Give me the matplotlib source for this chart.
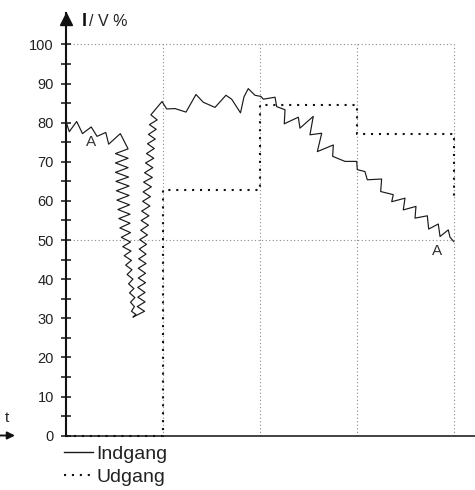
"""Indgang / Udgang level over time (I/V %)."""

import matplotlib
matplotlib.use("Agg")
import matplotlib.pyplot as plt
from matplotlib.lines import Line2D

plt.rcParams["font.family"] = ["Liberation Sans", "DejaVu Sans"]

# Indgang (input): time units (grid = 1) and percent
indgang_t = [
    0.00, 0.034, 0.11, 0.17, 0.26, 0.32, 0.41, 0.44, 0.56,
    # falling zigzag
    0.64, 0.51, 0.64, 0.51, 0.64, 0.51, 0.645, 0.515, 0.65, 0.52,
    0.65, 0.525, 0.655, 0.535, 0.66, 0.545, 0.66, 0.555, 0.665, 0.57,
    0.665, 0.585, 0.67, 0.60, 0.675, 0.615, 0.68, 0.63, 0.69, 0.645,
    0.70, 0.655, 0.71, 0.665, 0.705, 0.675, 0.72, 0.69,
    # rising zigzag
    0.81, 0.735, 0.815, 0.74, 0.815, 0.74, 0.82, 0.745, 0.82, 0.745,
    0.825, 0.75, 0.825, 0.755, 0.83, 0.76, 0.84, 0.77, 0.85, 0.775,
    0.855, 0.78, 0.865, 0.79, 0.87, 0.795, 0.88, 0.80, 0.89, 0.81,
    0.895, 0.82, 0.905, 0.83, 0.91, 0.84, 0.92, 0.85, 0.93, 0.86,
    0.94, 0.875,
    # plateau and slow decline
    0.99, 1.038, 1.124, 1.237, 1.340, 1.416, 1.536, 1.649, 1.708, 1.799,
    1.835, 1.879, 1.948, 2.010, 2.034, 2.155, 2.172, 2.258, 2.250, 2.395,
    2.412, 2.549, 2.515, 2.636, 2.591, 2.756, 2.749, 2.876, 2.997, 3.003,
    3.082, 3.106, 3.254, 3.244, 3.374, 3.358, 3.495, 3.477, 3.608, 3.598,
    3.725, 3.739, 3.838, 3.856, 3.941, 3.959, 3.999,
]
indgang_pct = [
    80.3, 77.7, 80.3, 77.2, 78.9, 76.5, 77.5, 74.5, 77.2,
    73.3, 72.1, 70.9, 69.7, 68.5, 67.3, 66.1, 65.0, 63.8, 62.6,
    61.4, 60.2, 59.0, 57.8, 56.6, 55.5, 54.3, 53.1, 51.9, 50.7,
    49.5, 48.3, 47.2, 46.0, 44.8, 43.6, 42.4, 41.2, 40.0, 38.8,
    37.6, 36.5, 35.3, 34.1, 33.0, 31.8, 31.0, 30.3,
    31.8, 33.0, 34.2, 35.4, 36.6, 37.9, 39.1, 40.3, 41.5, 42.8,
    44.0, 45.2, 46.4, 47.7, 48.9, 50.1, 51.3, 52.5, 53.8, 55.0,
    56.2, 57.4, 58.7, 59.9, 61.1, 62.3, 63.6, 64.8, 66.0, 67.2,
    68.5, 69.7, 70.9, 72.1, 73.4, 74.6, 75.8, 77.0, 78.3, 79.5,
    80.7, 82.0,
    85.4, 83.5, 83.6, 82.7, 87.2, 85.2, 83.9, 87.0, 86.0, 82.5,
    86.6, 88.7, 87.0, 86.7, 86.0, 86.5, 84.1, 83.3, 79.7, 81.4,
    78.6, 81.6, 76.9, 77.3, 72.6, 74.3, 71.4, 70.1, 70.1, 68.0,
    67.5, 65.4, 65.6, 62.4, 61.6, 59.8, 60.7, 57.7, 58.6, 55.6,
    56.2, 52.8, 54.1, 50.9, 52.6, 50.7, 49.6,
]

# Udgang (output), stepwise
udgang_t = [0, 1, 1, 2, 2, 3, 3, 4, 4]
udgang_pct = [0, 0, 62.7, 62.7, 84.6, 84.6, 77.1, 77.1, 60.2]

grid_t = [1, 2, 3, 4]
grid_pct = [50, 100]
major_ticks = list(range(0, 101, 10))
minor_ticks = list(range(5, 100, 10))

labels_a = [(0.26, 75.0), (3.82, 47.2)]

W, H = 475, 490
fig = plt.figure(figsize=(W / 100, H / 100), dpi=100)
ax = fig.add_axes([66 / W, (H - 435.7) / H, 409 / W, 108 * 3.913 / H])
ax.set_xlim(0, 409 / 97)
ax.set_ylim(0, 108)

grid_kw = dict(color="#8a8a8a", lw=0.8, linestyle=(0, (1, 2.2)), zorder=1)
for t in grid_t:
    ax.plot([t, t], [0, 100], **grid_kw)
for p in grid_pct:
    ax.plot([0, 4], [p, p], **grid_kw)

ax.plot(udgang_t, udgang_pct, color="#111111", lw=1.5,
        linestyle=(0, (1, 2.8)), zorder=2, clip_on=False)
ax.plot(indgang_t, indgang_pct, color="#1a1a1a", lw=0.85, zorder=3)

for t, p in labels_a:
    ax.text(t, p, "A", fontsize=11, color="#333333", ha="center", va="center")

for side in ["top", "right"]:
    ax.spines[side].set_visible(False)
ax.spines["left"].set_linewidth(1.5)
ax.spines["bottom"].set_linewidth(1.1)
ax.spines["left"].set_color("#111111")
ax.spines["bottom"].set_color("#111111")

ax.set_xticks([])
ax.set_yticks(major_ticks)
ax.set_yticks(minor_ticks, minor=True)
ax.tick_params(axis="y", which="both", direction="inout", length=7, width=1.1,
               color="#111111", labelsize=10.5, labelcolor="#222222", pad=5.2)

# arrowhead on the y axis
ax.plot([0], [106.5], marker="^", ms=8, color="#111111", clip_on=False, zorder=5)

fig.text(82 / W, 1 - 26 / H, "I", fontsize=13, fontweight="bold", color="#111111",
         ha="left", va="baseline")
fig.text(89 / W, 1 - 26 / H, "/ V %", fontsize=11.5, color="#222222",
         ha="left", va="baseline")

# time arrow left of the origin
fig.text(7 / W, 1 - 418 / H, "t", fontsize=11, color="#222222",
         ha="center", va="center")
ax.annotate("", xy=(15 / W, 1 - 435.5 / H), xycoords="figure fraction",
            xytext=(0, 1 - 435.5 / H), textcoords="figure fraction",
            arrowprops=dict(arrowstyle="-|>", color="#111111", lw=1.4,
                            mutation_scale=11, shrinkA=0, shrinkB=0))

handles = [
    Line2D([], [], color="#1a1a1a", lw=1.0),
    Line2D([], [], color="#111111", lw=1.5, linestyle=(0, (1, 2.8))),
]
fig.legend(handles, ["Indgang", "Udgang"], loc="upper left",
           bbox_to_anchor=(64 / W, 1 - 445 / H), frameon=False,
           fontsize=14, handlelength=1.5, handletextpad=0.15,
           labelspacing=0.3, borderpad=0, borderaxespad=0,
           labelcolor="#222222")

fig.savefig("out.png", dpi=100)
